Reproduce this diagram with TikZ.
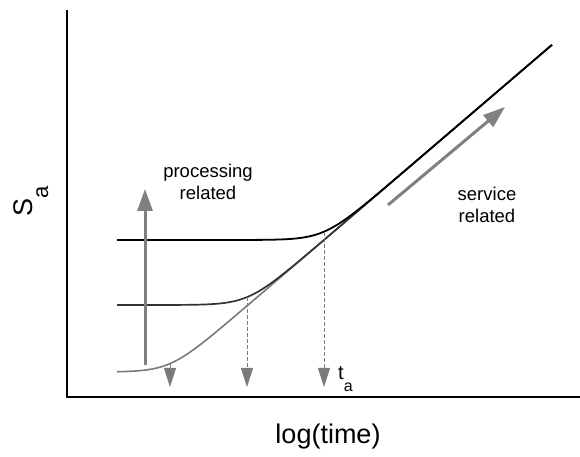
\documentclass[tikz,border=0pt]{standalone}
\usepackage{fontspec}
\setmainfont{Liberation Sans}
\usetikzlibrary{arrows.meta}
\definecolor{arrgray}{HTML}{808080}
\definecolor{midgray}{HTML}{333333}
\definecolor{lowgray}{HTML}{7A7A7A}
\tikzset{
  axisline/.style={line width=2.4pt, black},
  bigarrow/.style={line width=3pt, arrgray, -{Triangle[width=15pt,length=22pt]}},
  droparrow/.style={line width=0.8pt, lowgray, dash pattern=on 4pt off 2pt, -{Triangle[width=12pt,length=19pt]}},
  lbl/.style={font=\fontsize{18.5}{22}\selectfont, align=center, inner sep=0pt},
  biglbl/.style={font=\fontsize{27}{30}\selectfont, inner sep=0pt},
}
\begin{document}
\begin{tikzpicture}[x=1pt,y=1pt]
\useasboundingbox (0,0) rectangle (580,457);
% axes
\coordinate (ytop) at (67,447);
\coordinate (orig) at (67,60);
\coordinate (xend) at (580,60);
\draw[axisline] (ytop) -- (orig) -- (xend);
% curves (softplus shapes)
\draw[lowgray, line width=1.6pt] plot[domain=117:552, samples=160]
  (\x, {85 + max(0,132+0.856*(\x-324)) + 12*ln(1+exp(-min(9,abs(132+0.856*(\x-324))/12)))});
\draw[midgray, line width=1.7pt] plot[domain=117:552, samples=160]
  (\x, {152 + max(0,65+0.856*(\x-324)) + 12*ln(1+exp(-min(9,abs(65+0.856*(\x-324))/12)))});
\draw[black, line width=1.8pt] plot[domain=117:552, samples=160]
  (\x, {217 + max(0,0.856*(\x-324)) + 12*ln(1+exp(-min(9,abs(0.856*(\x-324))/12)))});
% drop arrows
\coordinate (d1s) at (170,93);
\coordinate (d1e) at (170,70);
\coordinate (d2s) at (247,160);
\coordinate (d2e) at (247,70);
\coordinate (d3s) at (324,225);
\coordinate (d3e) at (324,70);
\draw[droparrow] (d1s) -- (d1e);
\draw[droparrow] (d2s) -- (d2e);
\draw[droparrow] (d3s) -- (d3e);
% big arrows
\coordinate (va) at (145,92);
\coordinate (vb) at (145,268);
\draw[bigarrow] (va) -- (vb);
\coordinate (da) at (388,252);
\coordinate (db) at (505,350);
\draw[bigarrow] (da) -- (db);
% labels
\node[lbl] (proc) at (208,275) {processing\\related};
\node[lbl] (serv) at (487,252) {service\\related};
\node[inner sep=0pt, anchor=base west, font=\fontsize{20}{20}\selectfont] (ta) at (338,77)
  {t\raisebox{-12pt}{\fontsize{16}{16}\selectfont a}};
\node[biglbl, rotate=90, anchor=base] (sa) at (32,256)
  {S\raisebox{-16pt}{\fontsize{22}{22}\selectfont a}};
\node[biglbl] (lt) at (328,20) {log(time)};
\end{tikzpicture}
\end{document}
